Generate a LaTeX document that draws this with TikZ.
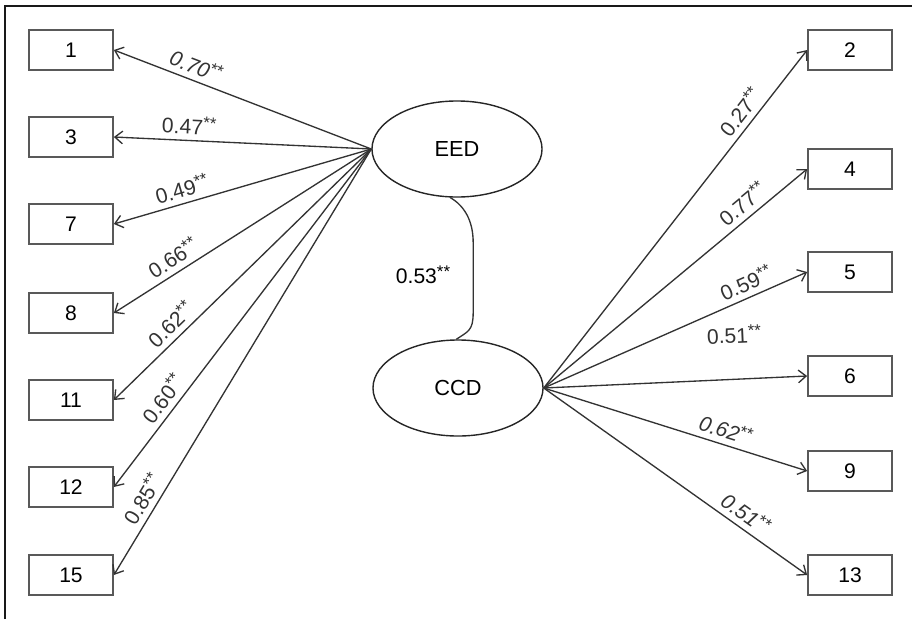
\documentclass[tikz,border=0pt]{standalone}
\usepackage{fontspec}
\setmainfont{Liberation Sans}
\usetikzlibrary{shapes,arrows.meta,positioning}

% significance stars
\newcommand{\sig}{\raisebox{0.28em}{\fontsize{12}{12}\selectfont **}}

\begin{document}
\begin{tikzpicture}[
    x=0.025cm, y=-0.025cm,
    item/.style={rectangle, draw=black!65, line width=1.2pt, minimum width=2.1cm, minimum height=1cm, inner sep=0pt, font=\fontsize{15}{17}\selectfont, fill=white},
    factor/.style={ellipse, draw=black!85, line width=1pt, minimum width=4.25cm, minimum height=2.4cm, inner sep=0pt, font=\fontsize{15.5}{18}\selectfont},
    arr/.style={-{Straight Barb[length=5.5pt,width=9pt]}, line width=0.95pt, color=black!80},
    coef/.style={sloped, above=3pt, font=\fontsize{15}{17}\selectfont, inner sep=1pt},
    frame/.style={line width=2pt, color=black!90}
]
    \useasboundingbox (0,0) rectangle (912,619);

    % Frame (left and top edges only)
    \draw[frame] (5,619) -- (5,6) -- (912,6);

    % Latent factors
    \node[factor] (eed) at (457,149) {EED};
    \node[factor] (ccd) at (458,388) {CCD};

    % EED indicators (left column)
    \node[item] (i1) at (71,50) {1};
    \node[item] (i3) at (71,137) {3};
    \node[item] (i7) at (71,224) {7};
    \node[item] (i8) at (71,313) {8};
    \node[item] (i11) at (71,400) {11};
    \node[item] (i12) at (71,487) {12};
    \node[item] (i15) at (71,575) {15};

    % CCD indicators (right column)
    \node[item] (i2) at (850,50) {2};
    \node[item] (i4) at (850,169) {4};
    \node[item] (i5) at (850,272) {5};
    \node[item] (i6) at (850,376) {6};
    \node[item] (i9) at (850,471) {9};
    \node[item] (i13) at (850,575) {13};

    % Loadings of EED
    \draw[arr] (eed.west) -- node[coef, pos=0.70] {\textit{0.70}\sig} (i1.east);
    \draw[arr] (eed.west) -- node[coef, pos=0.71] {0.47\sig} (i3.east);
    \draw[arr] (eed.west) -- node[coef, pos=0.72] {0.49\sig} (i7.east);
    \draw[arr] (eed.west) -- node[coef, pos=0.74] {0.66\sig} (i8.east);
    \draw[arr] (eed.west) -- node[coef, pos=0.74] {0.62\sig} (i11.east);
    \draw[arr] (eed.west) -- node[coef, pos=0.765] {0.60\sig} (i12.east);
    \draw[arr] (eed.west) -- node[coef, pos=0.84] {0.85\sig} (i15.east);

    % Loadings of CCD
    \draw[arr] (ccd.east) -- node[coef, pos=0.79] {0.27\sig} (i2.west);
    \draw[arr] (ccd.east) -- node[coef, pos=0.79] {0.77\sig} (i4.west);
    \draw[arr] (ccd.east) -- node[coef, pos=0.79] {0.59\sig} (i5.west);
    \draw[arr] (ccd.east) -- node[coef, pos=0.73, above=24pt] {0.51\sig} (i6.west);
    \draw[arr] (ccd.east) -- node[coef, pos=0.675] {\textit{0.62}\sig} (i9.west);
    \draw[arr] (ccd.east) -- node[coef, pos=0.735] {\textit{0.51}\sig} (i13.west);

    % Correlation between factors
    \draw[line width=0.95pt, color=black!80] (eed.262) .. controls +(14,8) and +(0,-22) .. ++(23,45)
        -- ++(0,70) .. controls +(0,18) and +(12,-8) .. (ccd.92);
    \node[font=\fontsize{15}{17}\selectfont] (corr) at (423,275) {0.53\sig};

\end{tikzpicture}
\end{document}
